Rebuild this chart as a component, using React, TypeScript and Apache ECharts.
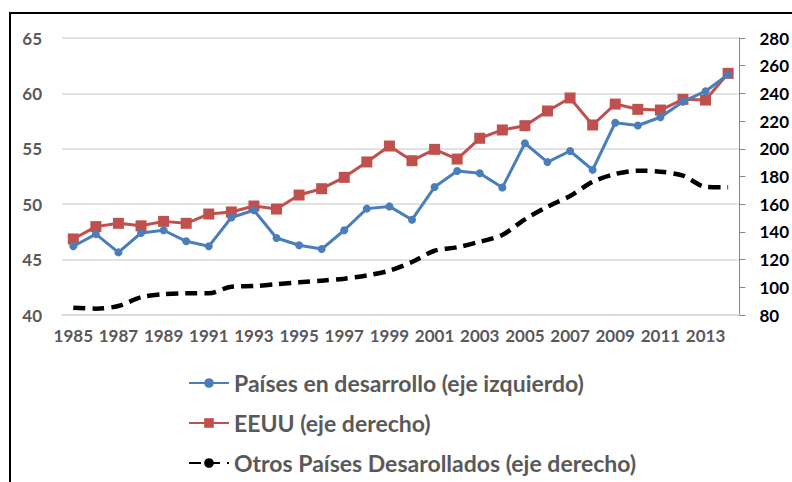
import React, { useEffect, useRef } from "react";
import * as echarts from "echarts";

const years = [
  "1985", "1986", "1987", "1988", "1989", "1990", "1991", "1992", "1993", "1994",
  "1995", "1996", "1997", "1998", "1999", "2000", "2001", "2002", "2003", "2004",
  "2005", "2006", "2007", "2008", "2009", "2010", "2011", "2012", "2013", "2014",
];

const developing = [
  46.2, 47.3, 45.65, 47.4, 47.65, 46.65, 46.2, 48.8, 49.45, 46.95,
  46.3, 45.95, 47.65, 49.6, 49.8, 48.6, 51.55, 53.0, 52.8, 51.5,
  55.5, 53.8, 54.8, 53.1, 57.35, 57.1, 57.85, 59.25, 60.2, 61.7,
];

const usa = [
  134.9, 143.8, 146.2, 144.4, 147.6, 146.2, 152.9, 154.4, 158.7, 156.5,
  166.6, 171.2, 179.4, 190.5, 202.0, 191.4, 199.6, 192.6, 207.6, 213.6,
  216.7, 227.3, 236.7, 217.2, 232.3, 228.5, 228.0, 235.7, 235.2, 254.5,
];

const otherDeveloped = [
  85.3, 84.6, 86.5, 92.8, 95.0, 95.7, 95.7, 100.4, 100.9, 102.2,
  103.6, 104.8, 106.2, 108.6, 112.0, 118.3, 126.4, 128.9, 132.9, 137.8,
  149.1, 158.2, 165.9, 176.2, 181.8, 184.2, 183.5, 180.6, 172.6, 172.2,
];

const seriesNames = [
  "Países en desarrollo (eje izquierdo)",
  "EEUU (eje derecho)",
  "Otros Países Desarollados (eje derecho)",
];

const FONT = "Lato";

export default function App() {
  const ref = useRef<HTMLDivElement>(null);

  useEffect(() => {
    document.body.style.margin = "0";
    const chart = echarts.init(ref.current!, null, { renderer: "svg" });
    chart.setOption({
      animation: false,
      backgroundColor: "#ffffff",
      textStyle: { fontFamily: FONT },
      grid: { left: 62, right: 51, top: 38, bottom: 167, containLabel: false },
      graphic: [
        {
          type: "rect",
          shape: { x: 10, y: 13, width: 800, height: 500 },
          style: { fill: "none", stroke: "#000000", lineWidth: 2 },
          silent: true,
        },
      ],
      legend: {
        orient: "vertical",
        left: 188,
        top: 370,
        height: 160,
        padding: 0,
        itemWidth: 40,
        itemHeight: 12,
        itemGap: 14,
        textStyle: {
          fontFamily: FONT,
          fontSize: 23,
          fontWeight: "bold",
          color: "#595959",
          lineHeight: 26,
        },
        data: seriesNames,
      },
      xAxis: {
        type: "category",
        data: years,
        boundaryGap: true,
        axisLine: { show: true, lineStyle: { color: "#d9d9d9", width: 1.5 } },
        axisTick: { show: false },
        axisLabel: {
          interval: 1,
          margin: 12,
          fontFamily: FONT,
          fontSize: 17,
          fontWeight: "bold",
          color: "#595959",
        },
      },
      yAxis: [
        {
          type: "value",
          min: 40,
          max: 65,
          interval: 5,
          axisLine: { show: false },
          axisTick: { show: false },
          splitLine: { show: true, lineStyle: { color: "#d9d9d9", width: 1.5 } },
          axisLabel: {
            margin: 20,
            fontFamily: FONT,
            fontSize: 17,
            fontWeight: "bold",
            color: "#595959",
          },
        },
        {
          type: "value",
          position: "right",
          min: 80,
          max: 280,
          interval: 20,
          axisLine: { show: true, lineStyle: { color: "#868686", width: 1 } },
          axisTick: { show: true, length: 6, lineStyle: { color: "#868686" } },
          splitLine: { show: false },
          axisLabel: {
            margin: 20,
            fontFamily: FONT,
            fontSize: 17,
            fontWeight: "bold",
            color: "#000000",
          },
        },
      ],
      series: [
        {
          name: seriesNames[0],
          type: "line",
          yAxisIndex: 0,
          data: developing,
          symbol: "circle",
          symbolSize: 8,
          itemStyle: { color: "#4a7ebb" },
          lineStyle: { color: "#4a7ebb", width: 3 },
          z: 4,
        },
        {
          name: seriesNames[1],
          type: "line",
          yAxisIndex: 1,
          data: usa,
          symbol: "rect",
          symbolSize: 11,
          itemStyle: { color: "#c0504d" },
          lineStyle: { color: "#c0504d", width: 3 },
          z: 3,
        },
        {
          name: seriesNames[2],
          type: "line",
          yAxisIndex: 1,
          data: otherDeveloped,
          symbol: "none",
          smooth: 0.3,
          itemStyle: { color: "#000000" },
          lineStyle: { color: "#000000", width: 4.5, type: [12, 7], cap: "butt" },
          z: 2,
        },
      ],
    });
    return () => chart.dispose();
  }, []);

  return (
    <div
      ref={ref}
      style={{ position: "absolute", left: 0, top: 0, width: 792, height: 482 }}
    />
  );
}
